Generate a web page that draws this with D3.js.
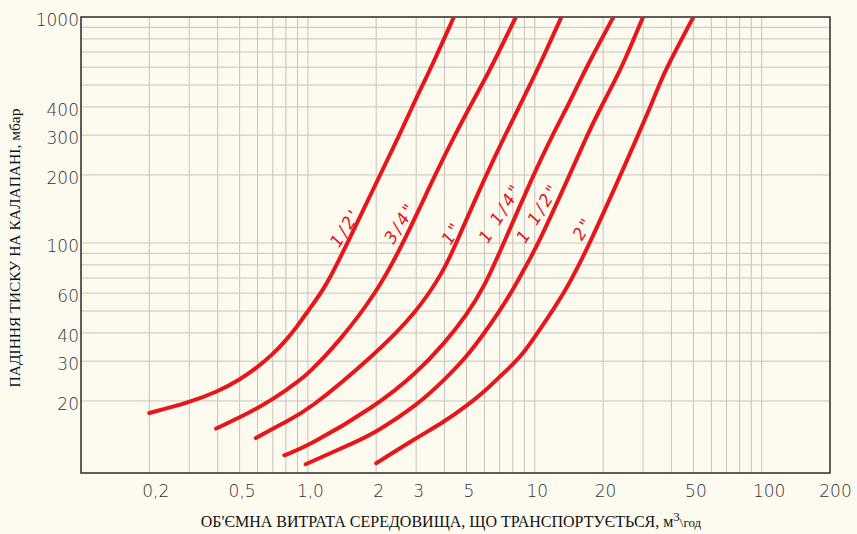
<!DOCTYPE html>
<html><head><meta charset="utf-8">
<script src="https://cdn.jsdelivr.net/npm/d3@7"></script>
<style>
html,body{margin:0;padding:0;background:#fdfbf0;}
svg{display:block;}
</style>
</head><body>
<svg id="chart" width="857" height="534"></svg>
<script>
// ---- data ----
const sizes = ["1/2'", "3/4\"", "1\"", "1 1/4\"", "1 1/2\"", "2\""];

const flow_1_2 = [0.2,0.3,0.4,0.5,0.6,0.7,0.8,0.9,1.0,1.2,1.48,2.08,2.53,2.88,3.2,3.5,4.4];
const drop_1_2 = [17.7,19.7,22,24.8,28.2,32.2,37,43,50,64,98,200,300,400,500,600,1000];

const flow_3_4 = [0.394,0.5,0.6,0.7,0.8,0.9,1.0,1.38,2,2.6,3.63,4.44,5.17,5.83,6.44,8.25];
const drop_3_4 = [15.1,16.9,18.6,20.4,22.3,24.3,26.3,36.8,60,97,200,300,400,500,600,1000];

const flow_1 = [0.59,0.8,1.0,2,3,4,4.5,6.1,7.4,8.54,9.51,10.4,13.1];
const drop_1 = [13.7,16.2,18.1,32.5,49,76,100,200,300,400,500,600,1000];

const flow_1_1_4 = [0.787,1.0,2,3,4,5,6,7.3,9.85,11.96,13.9,15.5,16.9,22.2];
const drop_1_1_4 = [11.5,12.6,19,26.5,36,48,64,100,200,300,400,500,600,1000];

const flow_1_1_2 = [0.977,1.69,2,3,4,5,6,7,8,9,10.2,14.25,17.0,19.6,22.0,24.2,30];
const drop_1_1_2 = [10.5,13.4,14.6,19,24.8,31.3,40,50,62,77,96,200,300,400,500,600,1000];

const flow_2 = [2.0,3,4,5,6,7,8,9,10,13.8,17.5,23.9,28.5,32.3,35.3,38.2,50];
const drop_2 = [10.6,13.7,16.2,19,22,25.6,29,33,38.4,61.7,100,200,300,400,500,600,1000];

const flows = [flow_1_2, flow_3_4, flow_1, flow_1_1_4, flow_1_1_2, flow_2];
const drops = [drop_1_2, drop_3_4, drop_1, drop_1_1_4, drop_1_1_2, drop_2];

// caption anchor points (data units) for the size labels
const labelFlow = [1.46, 2.55, 4.3, 7.05, 10.3, 16.3];
const labelDrop = [117, 123, 111, 136, 136, 116];

const xTickValues = [0.2,0.5,1,2,3,5,10,20,50,100,200];
const xTickLabels = ["0,2","0,5","1,0","2","3","5","10","20","50","100","200"];
const yTickValues = [20,30,40,60,100,200,300,400,1000];
const yTickLabels = ["20","30","40","60","100","200","300","400","1000"];

const xGrid = [0.2,0.3,0.4,0.5,0.6,0.7,0.8,0.9,1,2,3,4,5,6,7,8,9,10,20,30,40,50,60,70,80,90,100];
const yGrid = [20,30,40,50,60,70,80,90,100,200,300,400,500,600,700,800,900];

const xTitle = "ОБ'ЄМНА ВИТРАТА СЕРЕДОВИЩА, ЩО ТРАНСПОРТУЄТЬСЯ, м";
const xTitleSup = "3";
const xTitleEnd = "\\год";
const yTitle = "ПАДІННЯ ТИСКУ НА КАЛАПАНІ, мбар";

// ---- drawing ----
const svg = d3.select("#chart");
const L = 81, R = 830, T = 17, B = 473;
const x = d3.scaleLog().domain([0.1, 200]).range([L, R]);
const y = d3.scaleLog().domain([9.6, 1000]).range([B, T]);

svg.append("rect").attr("width",857).attr("height",534).attr("fill","#fdfbf0");

// grid
const g = svg.append("g");
g.selectAll("line.vx").data(xGrid).join("line")
  .attr("x1", d=>x(d)).attr("x2", d=>x(d)).attr("y1", T).attr("y2", B)
  .attr("stroke", "#c6c4bd").attr("stroke-width", 1);
g.selectAll("line.hy").data(yGrid).join("line")
  .attr("y1", d=>y(d)).attr("y2", d=>y(d)).attr("x1", L).attr("x2", R)
  .attr("stroke", "#c6c4bd").attr("stroke-width", 1);

// frame
svg.append("rect").attr("x", L).attr("y", T).attr("width", R-L).attr("height", B-T)
  .attr("fill","none").attr("stroke","#2a2a2a").attr("stroke-width",1.5);

// axes (labels only)
const xAxis = d3.axisBottom(x).tickValues(xTickValues)
  .tickFormat((d,i)=>xTickLabels[i]).tickSize(0).tickPadding(12);
const xa = svg.append("g").attr("transform", `translate(0,${B})`).call(xAxis);
xa.select(".domain").remove();
xa.selectAll("text").attr("font-family","DejaVu Sans").attr("font-weight",200)
  .attr("font-size",17).attr("fill","#333").attr("dx", (d)=> d===0.2?6:(d===100?7:(d===200?5:2)));

const yAxis = d3.axisLeft(y).tickValues(yTickValues)
  .tickFormat((d,i)=>yTickLabels[i]).tickSize(0).tickPadding(2);
const ya = svg.append("g").attr("transform", `translate(${L},0)`).call(yAxis);
ya.select(".domain").remove();
ya.selectAll("text").attr("font-family","DejaVu Sans").attr("font-weight",200)
  .attr("font-size",17).attr("fill","#333").attr("dy","0.5em");

// curves
svg.append("clipPath").attr("id","pc").append("rect")
  .attr("x",L).attr("y",T).attr("width",R-L).attr("height",B-T);
const line = d3.line().x(d=>x(d[0])).y(d=>y(d[1])).curve(d3.curveBasis);
const curves = svg.append("g").attr("clip-path","url(#pc)");
flows.forEach((fl,i)=>{
  const pts = fl.map((f,j)=>[f, drops[i][j]]);
  curves.append("path").datum(pts).attr("d", line)
    .attr("fill","none").attr("stroke","#e8151b").attr("stroke-width",4)
    .attr("stroke-linecap","round").attr("stroke-linejoin","round");
});

// size captions
sizes.forEach((s,i)=>{
  svg.append("text")
    .attr("transform", `translate(${x(labelFlow[i])},${y(labelDrop[i])}) rotate(-58)`)
    .attr("text-anchor","middle").attr("dy","0.35em")
    .attr("font-family","DejaVu Sans").attr("font-weight",200).attr("font-style","italic")
    .attr("font-size",17).attr("letter-spacing",2.5).attr("fill","#e5151b")
    .text(s);
});

// axis titles
const xt = svg.append("text").attr("x", 451).attr("y", 527).attr("text-anchor","middle")
  .attr("font-family","Liberation Serif").attr("font-size",16).attr("fill","#111");
xt.append("tspan").text(xTitle);
xt.append("tspan").attr("font-size",13).attr("dy",-6).text(xTitleSup);
xt.append("tspan").attr("font-size",13).attr("dy",6).text(xTitleEnd);

svg.append("text").attr("transform","translate(20,248) rotate(-90)")
  .attr("text-anchor","middle").attr("font-family","Liberation Serif")
  .attr("font-size",15.5).attr("fill","#111").text(yTitle);
</script>
</body></html>
